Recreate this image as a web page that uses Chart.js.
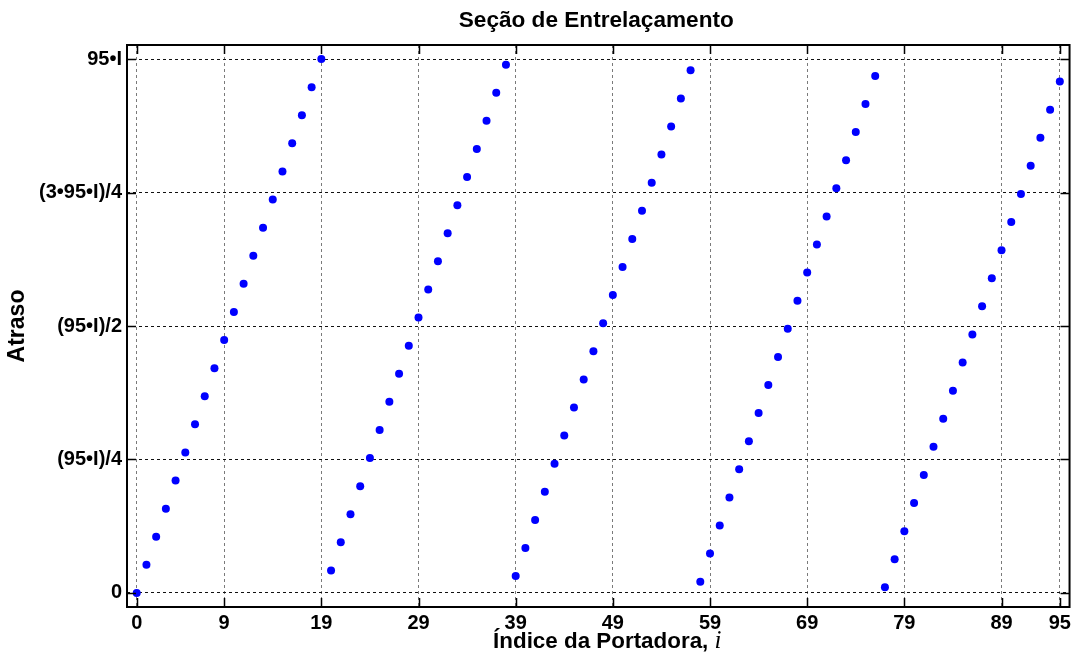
<!DOCTYPE html>
<html>
<head>
<meta charset="utf-8">
<title>Seção de Entrelaçamento</title>
<script src="https://cdn.jsdelivr.net/npm/chart.js@4/dist/chart.umd.min.js"></script>
<style>
    html, body { margin: 0; padding: 0; background: #fff; }
    #box { width: 1075px; height: 660px; }
</style>
</head>
<body>
<div id="box"><canvas id="myChart"></canvas></div>
<script>
/** índice da portadora (eixo x) */
var portadoras = [0, 1, 2, 3, 4, 5, 6, 7, 8, 9, 10, 11, 12, 13, 14, 15, 16, 17, 18, 19,
    20, 21, 22, 23, 24, 25, 26, 27, 28, 29, 30, 31, 32, 33, 34, 35, 36, 37, 38,
    39, 40, 41, 42, 43, 44, 45, 46, 47, 48, 49, 50, 51, 52, 53, 54, 55, 56, 57,
    58, 59, 60, 61, 62, 63, 64, 65, 66, 67, 68, 69, 70, 71, 72, 73, 74, 75, 76,
    77, 78, 79, 80, 81, 82, 83, 84, 85, 86, 87, 88, 89, 90, 91, 92, 93, 94, 95]
/** atraso de cada portadora, em unidades de I */
var atrasos = [0, 5, 10, 15, 20, 25, 30, 35, 40, 45, 50, 55, 60, 65, 70, 75, 80, 85, 90, 95,
    4, 9, 14, 19, 24, 29, 34, 39, 44, 49, 54, 59, 64, 69, 74, 79, 84, 89, 94,
    3, 8, 13, 18, 23, 28, 33, 38, 43, 48, 53, 58, 63, 68, 73, 78, 83, 88, 93,
    2, 7, 12, 17, 22, 27, 32, 37, 42, 47, 52, 57, 62, 67, 72, 77, 82, 87, 92,
    1, 6, 11, 16, 21, 26, 31, 36, 41, 46, 51, 56, 61, 66, 71, 76, 81, 86, 91]
/** marcas dos eixos */
var xTicks = [0, 9, 19, 29, 39, 49, 59, 69, 79, 89, 95]
var yTicks = [0, 23.75, 47.5, 71.25, 95]
var yTickLabels = ['0', '(95•I)/4', '(95•I)/2', '(3•95•I)/4', '95•I']

var titulo = 'Seção de Entrelaçamento'
var tituloY = 'Atraso'
var tituloX = 'Índice da Portadora, '
var tituloXItalico = 'i'

var fonteNegrito = '"Liberation Sans", Arial, sans-serif'
var fonteItalico = 'italic 25px "Liberation Serif", "Times New Roman", serif'

/** moldura, marcas internas e títulos */
var molduraPlugin = {
    id: 'moldura',
    afterDraw: function (chart) {
        var ctx = chart.ctx
        var a = chart.chartArea
        var sx = chart.scales.x
        var sy = chart.scales.y
        ctx.save()
        ctx.strokeStyle = '#000'
        ctx.lineWidth = 2
        ctx.strokeRect(a.left, a.top, a.right - a.left, a.bottom - a.top)

        // marcas para dentro, nos quatro lados
        ctx.lineWidth = 1.5
        ctx.beginPath()
        xTicks.forEach(function (v) {
            var px = Math.round(sx.getPixelForValue(v)) + 0.5
            ctx.moveTo(px, a.bottom)
            ctx.lineTo(px, a.bottom - 9)
            ctx.moveTo(px, a.top)
            ctx.lineTo(px, a.top + 9)
        })
        yTicks.forEach(function (v) {
            var py = Math.round(sy.getPixelForValue(v)) + 0.5
            ctx.moveTo(a.left, py)
            ctx.lineTo(a.left + 9, py)
            ctx.moveTo(a.right, py)
            ctx.lineTo(a.right - 9, py)
        })
        ctx.stroke()

        // título
        ctx.fillStyle = '#000'
        ctx.textBaseline = 'alphabetic'
        ctx.textAlign = 'center'
        ctx.font = 'bold 22.6px ' + fonteNegrito
        ctx.fillText(titulo, (a.left + a.right) / 2 - 2, 26.5)

        // título do eixo x, com o "i" em itálico
        ctx.textAlign = 'left'
        ctx.font = 'bold 22.4px ' + fonteNegrito
        var w1 = ctx.measureText(tituloX).width
        ctx.font = fonteItalico
        var w2 = ctx.measureText(tituloXItalico).width
        var x0 = (a.left + a.right) / 2 + 9 - (w1 + w2) / 2
        ctx.font = 'bold 22.4px ' + fonteNegrito
        ctx.fillText(tituloX, x0, 648)
        ctx.font = fonteItalico
        ctx.fillText(tituloXItalico, x0 + w1, 648)
        ctx.restore()
    }
}

function createChart() {
    var pontos = portadoras.map(function (p, k) {
        return { x: p, y: atrasos[k] }
    })
    var ctx = document.getElementById('myChart').getContext('2d')
    var myChart = new Chart(ctx, {
        type: 'scatter',
        data: {
            datasets: [{
                label: tituloY,
                data: pontos,
                pointRadius: 4,
                pointHoverRadius: 4,
                pointBackgroundColor: '#0000ff',
                pointBorderWidth: 0,
                showLine: false
            }]
        },
        options: {
            responsive: true,
            maintainAspectRatio: false,
            animation: false,
            layout: { padding: { top: 45, right: 5, bottom: 0, left: 0 } },
            plugins: {
                legend: { display: false },
                tooltip: { enabled: false }
            },
            scales: {
                x: {
                    type: 'linear',
                    min: -1,
                    max: 96,
                    afterBuildTicks: function (s) {
                        s.ticks = xTicks.map(function (v) { return { value: v } })
                    },
                    afterFit: function (s) { s.height = 53 },
                    ticks: {
                        autoSkip: false,
                        maxRotation: 0,
                        padding: 4,
                        color: '#000',
                        font: { family: fonteNegrito, size: 20, weight: 'bold' },
                        callback: function (v) { return String(v) }
                    },
                    grid: { color: '#7a7a7a', lineWidth: 1, drawTicks: false },
                    border: { display: false, dash: [3, 3] }
                },
                y: {
                    type: 'linear',
                    min: -2.5,
                    max: 97.5,
                    afterBuildTicks: function (s) {
                        s.ticks = yTicks.map(function (v) { return { value: v } })
                    },
                    afterFit: function (s) { s.width = 127 },
                    ticks: {
                        padding: 5,
                        color: '#000',
                        font: { family: fonteNegrito, size: 20, weight: 'bold' },
                        callback: function (v, i) { return yTickLabels[i] }
                    },
                    grid: { color: '#111', lineWidth: 1, drawTicks: false },
                    border: { display: false, dash: [3, 3] },
                    title: {
                        display: true,
                        text: tituloY,
                        color: '#000',
                        font: { family: fonteNegrito, size: 23, weight: 'bold' },
                        padding: { top: 4, bottom: 0 }
                    }
                }
            }
        },
        plugins: [molduraPlugin]
    })
}

createChart()
</script>
</body>
</html>
